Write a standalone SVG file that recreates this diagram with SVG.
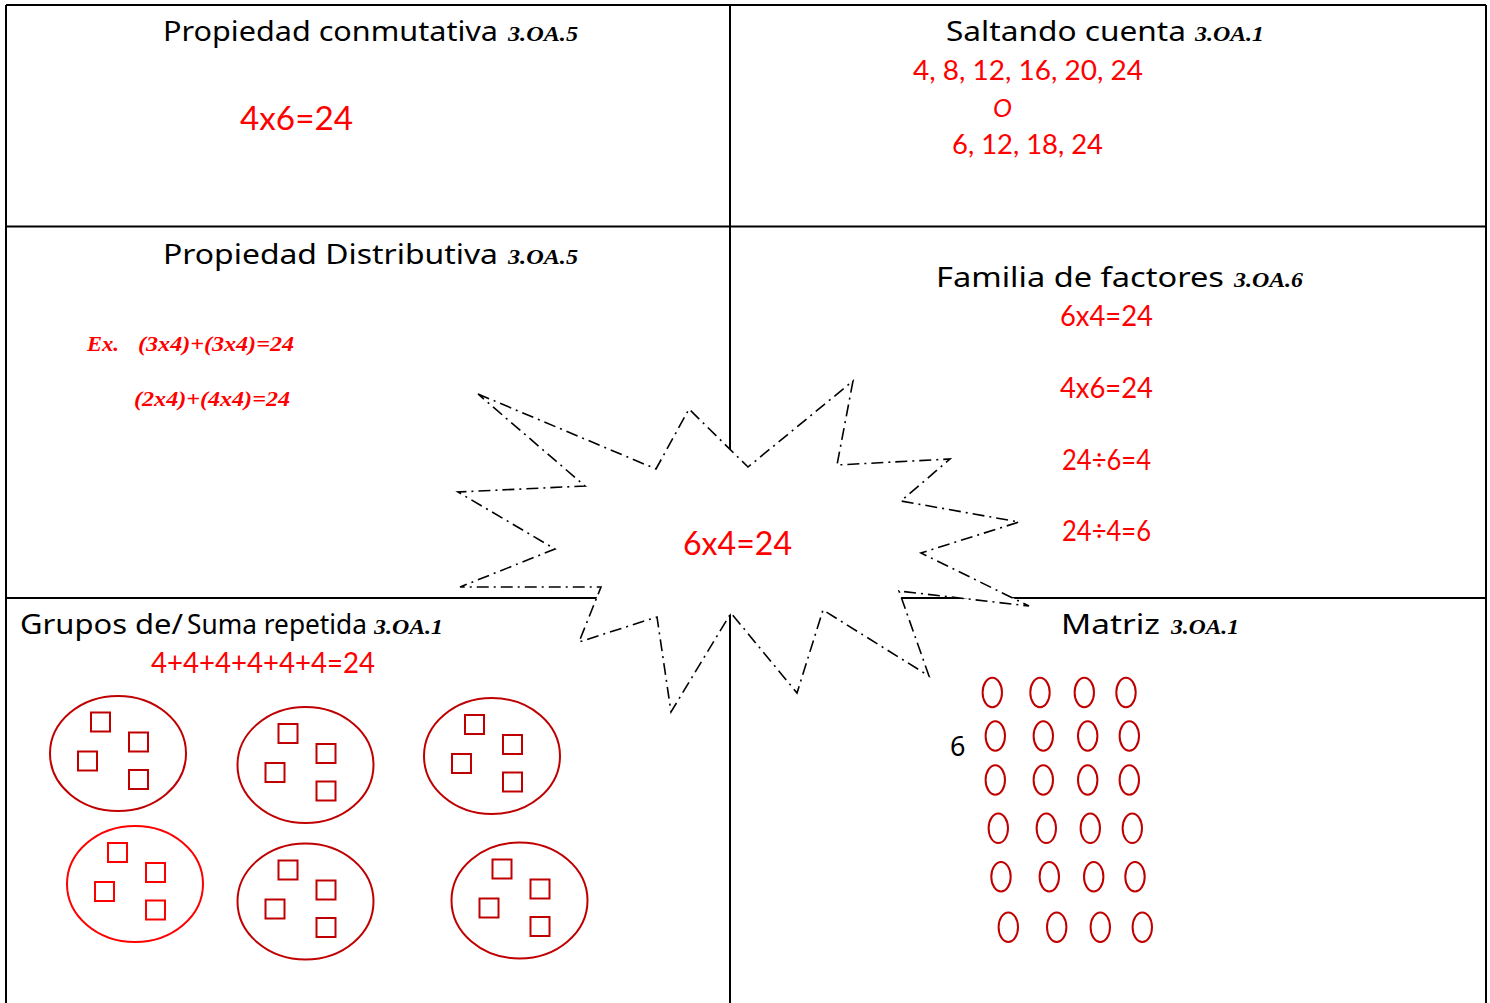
<svg xmlns="http://www.w3.org/2000/svg" width="1490" height="1003" viewBox="0 0 1490 1003">
<style>
.title{font-family:"Noto Sans","Liberation Sans",sans-serif;font-size:28px;fill:#000}
.code{font-family:"Liberation Serif",serif;font-weight:bold;font-style:italic;font-size:22px;fill:#000}
.red{font-family:"Lato","Liberation Sans",sans-serif;fill:#ff0000}
.rs{font-family:"Liberation Serif",serif;font-weight:bold;font-style:italic;font-size:22px;fill:#ff0000}
.grid{stroke:#000;stroke-width:2;fill:none}
.ell{fill:none;stroke:#c00000;stroke-width:2}
.sq{fill:none;stroke:#c00000;stroke-width:2}
.oval{fill:none;stroke:#c00000;stroke-width:2}
</style>
<defs>
<g id="squares">
<rect class="sq" x="-27" y="-41" width="19" height="19"/>
<rect class="sq" x="11" y="-21" width="19" height="19"/>
<rect class="sq" x="-40" y="-2" width="19" height="19"/>
<rect class="sq" x="11" y="16.5" width="19" height="19"/>
</g>
<ellipse id="ov" class="oval" rx="9.7" ry="14.7"/>
</defs>
<rect width="1490" height="1003" fill="#fff"/>
<g id="table">
<line class="grid" x1="6" y1="5" x2="1486" y2="5"/>
<line class="grid" x1="6" y1="5" x2="6" y2="1003"/>
<line class="grid" x1="1486" y1="5" x2="1486" y2="1003"/>
<line class="grid" x1="730" y1="5" x2="730" y2="1003" stroke-width="1.6"/>
<line class="grid" x1="6" y1="226.5" x2="1486" y2="226.5" stroke-width="1.6"/>
<line class="grid" x1="6" y1="598" x2="1486" y2="598" stroke-width="1.6"/>
</g>
<g id="star">
<polygon points="478,394 656,469 689,409 748,467 853,381 837,465 950,459 901,501 1019,522 921,553 1029,606 899,591 929,676 823,610 797,693 731,613 671,712 657,617 579,642 601,587 460,587 555,549 458,492 585,486" fill="#fff" stroke="#000" stroke-width="1.6" stroke-dasharray="12 5 2 5" stroke-linejoin="miter"/>
<text class="red" x="683" y="555" font-size="33" textLength="109" lengthAdjust="spacingAndGlyphs">6x4=24</text>
</g>
<g id="conmutativa">
<text class="title" x="163" y="41" textLength="335" lengthAdjust="spacingAndGlyphs">Propiedad conmutativa</text>
<text class="code" x="508" y="41" textLength="70" lengthAdjust="spacingAndGlyphs">3.OA.5</text>
<text class="red" x="240" y="130" font-size="32" textLength="113" lengthAdjust="spacingAndGlyphs">4x6=24</text>
</g>
<g id="saltando">
<text class="title" x="946" y="41" textLength="240" lengthAdjust="spacingAndGlyphs">Saltando cuenta</text>
<text class="code" x="1195" y="41" textLength="69" lengthAdjust="spacingAndGlyphs">3.OA.1</text>
<text class="red" x="913" y="80" font-size="26" textLength="230" lengthAdjust="spacingAndGlyphs">4, 8, 12, 16, 20, 24</text>
<text class="red" x="993" y="117" font-size="26" font-style="italic" textLength="19" lengthAdjust="spacingAndGlyphs">O</text>
<text class="red" x="952" y="154" font-size="26" textLength="151" lengthAdjust="spacingAndGlyphs">6, 12, 18, 24</text>
</g>
<g id="distributiva">
<text class="title" x="163" y="264" textLength="335" lengthAdjust="spacingAndGlyphs">Propiedad Distributiva</text>
<text class="code" x="508" y="264" textLength="70" lengthAdjust="spacingAndGlyphs">3.OA.5</text>
<text class="rs" x="87" y="351" textLength="32" lengthAdjust="spacingAndGlyphs">Ex.</text>
<text class="rs" x="138" y="351" textLength="156" lengthAdjust="spacingAndGlyphs">(3x4)+(3x4)=24</text>
<text class="rs" x="134" y="406" textLength="156" lengthAdjust="spacingAndGlyphs">(2x4)+(4x4)=24</text>
</g>
<g id="familia">
<text class="title" x="936" y="287" textLength="288" lengthAdjust="spacingAndGlyphs">Familia de factores</text>
<text class="code" x="1234" y="287" textLength="69" lengthAdjust="spacingAndGlyphs">3.OA.6</text>
<text class="red" x="1060" y="326" font-size="28" textLength="93" lengthAdjust="spacingAndGlyphs">6x4=24</text>
<text class="red" x="1060" y="398" font-size="28" textLength="93" lengthAdjust="spacingAndGlyphs">4x6=24</text>
<text class="red" x="1062" y="470" font-size="28" textLength="89" lengthAdjust="spacingAndGlyphs">24÷6=4</text>
<text class="red" x="1062" y="541" font-size="28" textLength="89" lengthAdjust="spacingAndGlyphs">24÷4=6</text>
</g>
<g id="grupos">
<text class="title" x="20" y="634" textLength="163" lengthAdjust="spacingAndGlyphs">Grupos de/</text>
<text class="title" x="187" y="634" font-size="24" textLength="180" lengthAdjust="spacingAndGlyphs">Suma repetida</text>
<text class="code" x="374" y="634" textLength="69" lengthAdjust="spacingAndGlyphs">3.OA.1</text>
<text class="red" x="151" y="673" font-size="28" textLength="224" lengthAdjust="spacingAndGlyphs">4+4+4+4+4+4=24</text>
<g id="group1" transform="translate(118,753.5)"><ellipse class="ell" rx="68" ry="57.5"/><use href="#squares"/></g>
<g id="group2" transform="translate(305.5,765)"><ellipse class="ell" rx="68" ry="58"/><use href="#squares"/></g>
<g id="group3" transform="translate(492,756)"><ellipse class="ell" rx="68" ry="58"/><use href="#squares"/></g>
<g id="group4" transform="translate(135,884)"><ellipse class="ell" rx="68" ry="58" stroke="#ff0000" style="stroke:#ff0000"/><g style="stroke:#ff0000"><rect x="-27" y="-41" width="19" height="19" fill="none" stroke="#ff0000" stroke-width="2"/><rect x="11" y="-21" width="19" height="19" fill="none" stroke="#ff0000" stroke-width="2"/><rect x="-40" y="-2" width="19" height="19" fill="none" stroke="#ff0000" stroke-width="2"/><rect x="11" y="16.5" width="19" height="19" fill="none" stroke="#ff0000" stroke-width="2"/></g></g>
<g id="group5" transform="translate(305.5,901.5)"><ellipse class="ell" rx="68" ry="58"/><use href="#squares"/></g>
<g id="group6" transform="translate(519.5,900.5)"><ellipse class="ell" rx="68" ry="58"/><use href="#squares"/></g>
</g>
<g id="matriz">
<text class="title" x="1061" y="634" textLength="99" lengthAdjust="spacingAndGlyphs">Matriz</text>
<text class="code" x="1171" y="634" textLength="68" lengthAdjust="spacingAndGlyphs">3.OA.1</text>
<text x="950" y="756" font-family="Noto Sans, Liberation Sans, sans-serif" font-size="27" fill="#000">6</text>
<use href="#ov" x="992.3" y="692.5"/><use href="#ov" x="1040" y="692.5"/><use href="#ov" x="1084.3" y="692.5"/><use href="#ov" x="1126" y="692.5"/>
<use href="#ov" x="995.3" y="736"/><use href="#ov" x="1043.3" y="736"/><use href="#ov" x="1087.7" y="736"/><use href="#ov" x="1129.3" y="736"/>
<use href="#ov" x="995.3" y="780"/><use href="#ov" x="1043.3" y="780"/><use href="#ov" x="1087.7" y="780"/><use href="#ov" x="1129.3" y="780"/>
<use href="#ov" x="998.3" y="828.3"/><use href="#ov" x="1046.3" y="828.3"/><use href="#ov" x="1090.3" y="828.3"/><use href="#ov" x="1132.3" y="828.3"/>
<use href="#ov" x="1001" y="876.7"/><use href="#ov" x="1049.3" y="876.7"/><use href="#ov" x="1093.7" y="876.7"/><use href="#ov" x="1135" y="876.7"/>
<use href="#ov" x="1008.3" y="927.2"/><use href="#ov" x="1056.7" y="927.2"/><use href="#ov" x="1100.3" y="927.2"/><use href="#ov" x="1142.3" y="927.2"/>
</g>
</svg>
